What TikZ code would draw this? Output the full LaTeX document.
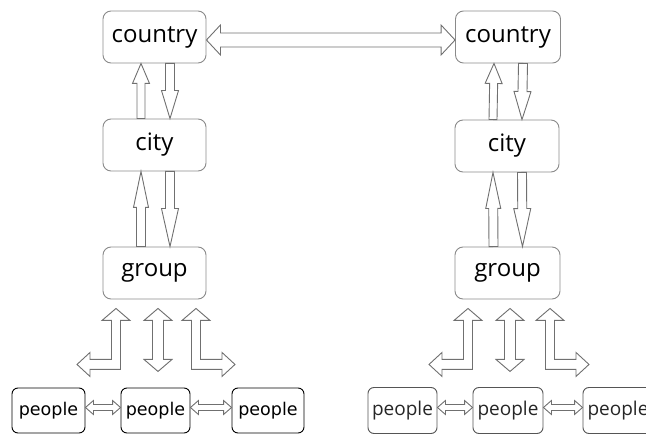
\documentclass[tikz,border=0pt]{standalone}
\usepackage{fontspec}
\setmainfont{Open Sans}
\newfontfamily\pfont{DejaVu Sans}
\usetikzlibrary{calc}
\definecolor{boxgray}{HTML}{8A8A8A}
\definecolor{arrgray}{HTML}{707070}
\definecolor{pgray}{HTML}{555555}
\tikzset{
 bigbox/.style={draw=boxgray, line width=0.9pt, rounded corners=8pt, minimum width=103pt, minimum height=52pt, inner sep=0pt, font=\fontsize{24}{27}\selectfont},
 pboxL/.style={draw=black, line width=0.9pt, rounded corners=6pt, minimum height=45pt, inner sep=0pt, font=\pfont\fontsize{17.5}{20}\selectfont},
 pboxR/.style={draw=pgray, line width=0.9pt, rounded corners=6pt, minimum height=46pt, inner sep=0pt, text=black!85, font=\fontsize{19}{22}\selectfont},
 barrow/.style={draw=arrgray, line width=0.9pt, fill=white, line join=miter},
}
% single block arrow: from #1 to #2, shaft half width #3, head half width #4, head length #5
\newcommand\mysarrow[5]{%
  \coordinate (ba-h) at ($(#2)!#5!(#1)$);
  \draw[barrow] ($(#1)!#3!90:(#2)$) -- ($(ba-h)!#3!-90:(#1)$) -- ($(ba-h)!#4!-90:(#1)$) -- (#2) -- ($(ba-h)!#4!90:(#1)$) -- ($(ba-h)!#3!90:(#1)$) -- ($(#1)!#3!-90:(#2)$) -- cycle;
}
% double block arrow
\newcommand\mydarrow[5]{%
  \coordinate (ba-a) at ($(#1)!#5!(#2)$);
  \coordinate (ba-b) at ($(#2)!#5!(#1)$);
  \draw[barrow] (#1) -- ($(ba-a)!#4!90:(#2)$) -- ($(ba-a)!#3!90:(#2)$) -- ($(ba-b)!#3!-90:(#1)$) -- ($(ba-b)!#4!-90:(#1)$) -- (#2) -- ($(ba-b)!#4!90:(#1)$) -- ($(ba-b)!#3!90:(#1)$) -- ($(ba-a)!#3!-90:(#2)$) -- ($(ba-a)!#4!-90:(#2)$) -- cycle;
}
% L-shaped double arrow, top tip at #1, direction #2 (+1 right, -1 left)
\newcommand\myLarrow[2]{%
  \begin{scope}[shift={(#1)}, xscale=#2]
  \draw[barrow] (0,0) -- (-14,12) -- (-4.5,12) -- (-4.5,61) -- (26,61) -- (26,68) -- (39,56) -- (26,44) -- (26,51) -- (4.5,51) -- (4.5,12) -- (14,12) -- cycle;
  \end{scope}
}
\begin{document}
\begin{tikzpicture}[x=1pt,y=-1pt]
\useasboundingbox (0,0) rectangle (646,435);
\clip (0,0) rectangle (646,435);
% boxes
\node[bigbox] (Lcountry) at (154.5,37) {country};
\node[bigbox] (Lcity) at (154.5,145) {city};
\node[bigbox] (Lgroup) at (154.5,273) {group};
\node[bigbox,minimum width=105pt] (Rcountry) at (508,37) {country};
\node[bigbox,minimum width=104pt] (Rcity) at (507,146) {city};
\node[bigbox,minimum width=105pt] (Rgroup) at (507.5,273) {group};
\node[pboxL,minimum width=73pt] (Lp1) at (48.5,410.5) {people};
\node[pboxL,minimum width=69pt] (Lp2) at (155.5,410.5) {people};
\node[pboxL,minimum width=72pt] (Lp3) at (268,410.5) {people};
\node[pboxR,minimum width=69pt] (Rp1) at (402.5,410.5) {people};
\node[pboxR,minimum width=70pt] (Rp2) at (508,410.5) {people};
\node[pboxR,minimum width=70pt] (Rp3) at (618,410.5) {people};
% country <-> country
\coordinate (h1) at ($(Lcountry.east)+(0,3)$);
\coordinate (h2) at ($(Rcountry.west)+(0,3)$);
\mydarrow{h1}{h2}{7pt}{15pt}{14pt}
% left column vertical arrows
\coordinate (a1s) at ($(Lcity.north)+(-13.5,0)$);
\coordinate (a1e) at ($(Lcountry.south)+(-13.5,0)$);
\mysarrow{a1s}{a1e}{4pt}{8.5pt}{20pt}
\coordinate (a2s) at ($(Lcountry.south)+(15.5,0)$);
\coordinate (a2e) at ($(Lcity.north)+(15.5,0)$);
\mysarrow{a2s}{a2e}{4.5pt}{8.5pt}{28pt}
\coordinate (a3s) at ($(Lgroup.north)+(-13.5,0)$);
\coordinate (a3e) at ($(Lcity.south)+(-13.5,0)$);
\mysarrow{a3s}{a3e}{4.5pt}{7.5pt}{36pt}
\coordinate (a4s) at ($(Lcity.south)+(15.5,0)$);
\coordinate (a4e) at ($(Lgroup.north)+(15.5,0)$);
\mysarrow{a4s}{a4e}{4.5pt}{8.5pt}{38pt}
% right column vertical arrows
\coordinate (b1s) at ($(Rcity.north)+(-14,0)$);
\coordinate (b1e) at ($(Rcountry.south)+(-14,0)$);
\mysarrow{b1s}{b1e}{4pt}{8.5pt}{20pt}
\coordinate (b2s) at ($(Rcountry.south)+(15,0)$);
\coordinate (b2e) at ($(Rcity.north)+(15,0)$);
\mysarrow{b2s}{b2e}{4.5pt}{8.5pt}{28pt}
\coordinate (b3s) at ($(Rgroup.north)+(-14,0)$);
\coordinate (b3e) at ($(Rcity.south)+(-14,0)$);
\mysarrow{b3s}{b3e}{4.5pt}{7.5pt}{36pt}
\coordinate (b4s) at ($(Rcity.south)+(15,0)$);
\coordinate (b4e) at ($(Rgroup.north)+(15,0)$);
\mysarrow{b4s}{b4e}{4.5pt}{8.5pt}{38pt}
% group -> people arrows (left)
\coordinate (Lt1) at ($(Lgroup.south)+(-38.5,9)$);
\myLarrow{Lt1}{-1}
\coordinate (Lm1) at ($(Lgroup.south)+(3.5,9)$);
\coordinate (Lm2) at ($(Lgroup.south)+(3.5,72)$);
\mydarrow{Lm1}{Lm2}{5.5pt}{14pt}{12pt}
\coordinate (Lt3) at ($(Lgroup.south)+(41.5,9)$);
\myLarrow{Lt3}{1}
% group -> people arrows (right)
\coordinate (Rt1) at ($(Rgroup.south)+(-39.5,9)$);
\myLarrow{Rt1}{-1}
\coordinate (Rm1) at ($(Rgroup.south)+(2.5,9)$);
\coordinate (Rm2) at ($(Rgroup.south)+(2.5,72)$);
\mydarrow{Rm1}{Rm2}{5.5pt}{14pt}{12pt}
\coordinate (Rt3) at ($(Rgroup.south)+(42.5,9)$);
\myLarrow{Rt3}{1}
% people <-> people
\coordinate (p1a) at ($(Lp1.east)+(0,-3)$);
\coordinate (p1b) at ($(Lp2.west)+(0,-3)$);
\mydarrow{p1a}{p1b}{3pt}{7pt}{8pt}
\coordinate (p2a) at ($(Lp2.east)+(0,-3)$);
\coordinate (p2b) at ($(Lp3.west)+(0,-3)$);
\mydarrow{p2a}{p2b}{3pt}{7pt}{8pt}
\coordinate (q1a) at ($(Rp1.east)+(0,-3)$);
\coordinate (q1b) at ($(Rp2.west)+(0,-3)$);
\mydarrow{q1a}{q1b}{3pt}{7pt}{8pt}
\coordinate (q2a) at ($(Rp2.east)+(0,-3)$);
\coordinate (q2b) at ($(Rp3.west)+(0,-3)$);
\mydarrow{q2a}{q2b}{3pt}{7pt}{8pt}
\end{tikzpicture}
\end{document}
